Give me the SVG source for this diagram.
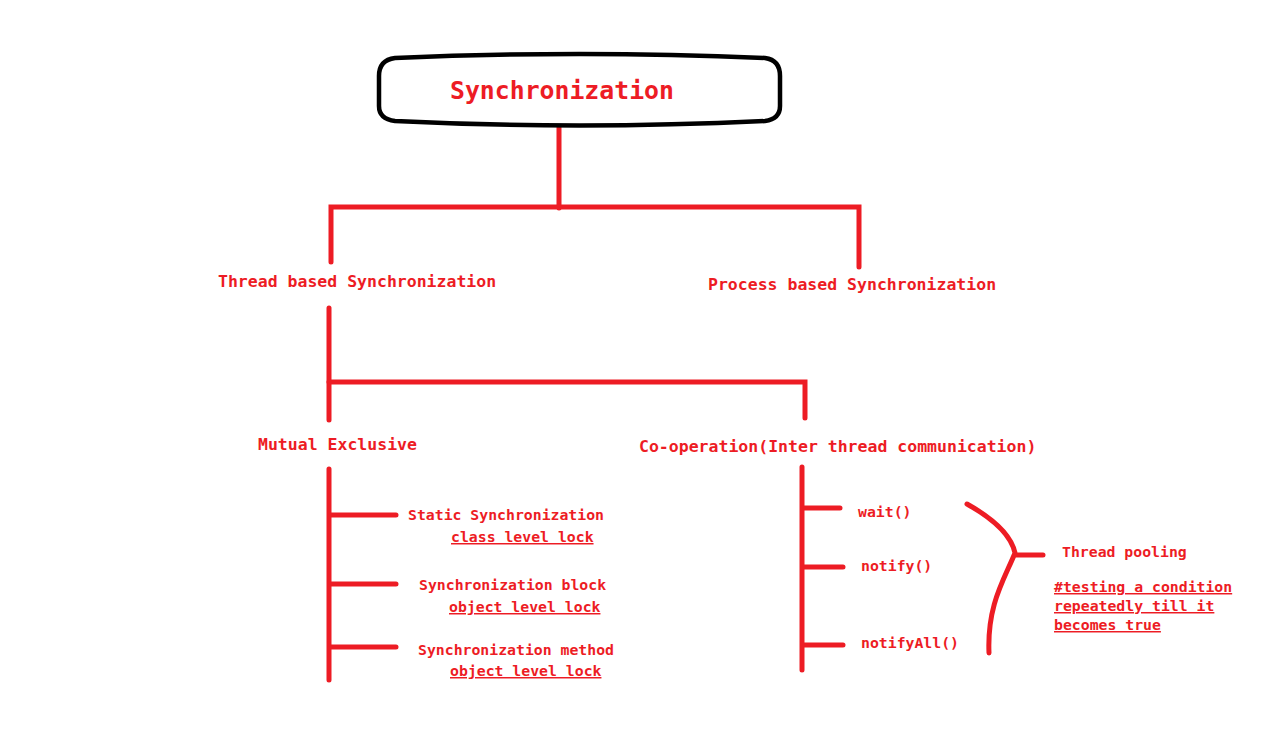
<svg xmlns="http://www.w3.org/2000/svg" width="1275" height="751" viewBox="0 0 1275 751">
<style>
.ln{stroke:#ED1C24;stroke-width:5;stroke-linecap:round;fill:none}
.t{font-family:"DejaVu Sans Mono","Liberation Mono",monospace;font-weight:bold;fill:#ED1C24}
.big{font-size:24.8px}
.mid{font-size:16.5px}
.sm{font-size:14.8px}
.u{text-decoration:underline}
</style>
<rect width="1275" height="751" fill="#ffffff"/>
<g id="connectors">
<path class="ln" d="M559,125 V208"/>
<path class="ln" d="M331,262 V207 H859 V267"/>
<path class="ln" d="M329,308 V420"/>
<path class="ln" d="M329,382 H805 V418"/>
<path class="ln" d="M329,469 V680 M329,515 H396 M329,584 H396 M329,647 H396"/>
<path class="ln" d="M802,467 V670 M802,508 H840 M802,567 H843 M802,645 H843"/>
<path class="ln" d="M967,504 C992,518 1011,534 1015,553 C1004,580 987,605 989,653 M1015,555 H1043"/>
</g>
<g id="root">
<path d="M395,58 Q579,50 765,58 Q780,60 780,76 L780,106 Q780,119 765,121 Q579,130 395,121 Q379,119 379,106 L379,76 Q379,60 395,58 Z" fill="#ffffff" stroke="#000000" stroke-width="4.5"/>
<text class="t big" x="450" y="99">Synchronization</text>
</g>
<g id="thread-based"><text class="t mid" x="218" y="287">Thread based Synchronization</text></g>
<g id="process-based"><text class="t mid" x="708" y="290">Process based Synchronization</text></g>
<g id="mutual-exclusive"><text class="t mid" x="258" y="450">Mutual Exclusive</text></g>
<g id="co-operation"><text class="t mid" x="639" y="452">Co-operation(Inter thread communication)</text></g>
<g id="static-sync">
<text class="t sm" x="408" y="520">Static Synchronization</text>
<text class="t sm u" x="451" y="542">class level lock</text>
</g>
<g id="sync-block">
<text class="t sm" x="419" y="590">Synchronization block</text>
<text class="t sm u" x="449" y="612">object level lock</text>
</g>
<g id="sync-method">
<text class="t sm" x="418" y="655">Synchronization method</text>
<text class="t sm u" x="450" y="676">object level lock</text>
</g>
<g id="wait"><text class="t sm" x="858" y="517">wait()</text></g>
<g id="notify"><text class="t sm" x="861" y="571">notify()</text></g>
<g id="notifyall"><text class="t sm" x="861" y="648">notifyAll()</text></g>
<g id="thread-pooling">
<text class="t sm" x="1062" y="557">Thread pooling</text>
<text class="t sm u" x="1054" y="592">#testing a condition</text>
<text class="t sm u" x="1054" y="611">repeatedly till it</text>
<text class="t sm u" x="1054" y="630">becomes true</text>
</g>
</svg>
